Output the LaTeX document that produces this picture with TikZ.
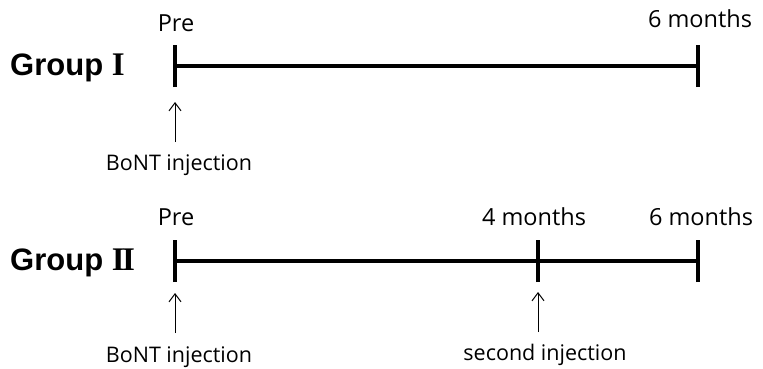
\documentclass[tikz,border=0pt]{standalone}
\usepackage{fontspec}
\setmainfont{Open Sans}
\newfontfamily\grpfont{Liberation Sans}
\newfontfamily\romfont{Liberation Serif}
\usetikzlibrary{arrows.meta}
\begin{document}
\begin{tikzpicture}[x=1pt,y=-1pt,
  axis/.style={line width=3.8pt},
  tick/.style={line width=4.2pt},
  ptr/.style={line width=1pt,-{Straight Barb[length=8pt,width=12pt,line width=1pt]}},
  toplbl/.style={inner sep=0pt,anchor=base,font=\fontsize{23.5}{26}\selectfont},
  botlbl/.style={inner sep=0pt,anchor=base,font=\fontsize{21.5}{24}\selectfont},
  rom/.style={},
  grp/.style={inner sep=0pt,anchor=base west,font=\fontsize{31}{34}\selectfont\grpfont\bfseries}]
\useasboundingbox (0,0) rectangle (763,369);
% Group I
\node[grp] (g1) at (10,76) {Group {\fontsize{33}{34}\selectfont\romfont\bfseries I}};
\coordinate (s1) at (175,66);
\coordinate (e1) at (698,66);
\draw[axis] (s1) -- (e1);
\draw[tick] ([yshift=-21pt]s1) -- ([yshift=21pt]s1);
\draw[tick] ([yshift=-21pt]e1) -- ([yshift=21pt]e1);
\node[toplbl] (pre1) at (176,32) {Pre};
\node[toplbl] (m61) at (700,28) {6 months};
\coordinate (a1b) at (175,142);
\coordinate (a1t) at (175,102);
\draw[ptr] (a1b) -- (a1t);
\node[botlbl] (inj1) at (179,170) {BoNT injection};
% Group II
\node[grp] (g2) at (10,270) {Group {\fontsize{33}{34}\selectfont\romfont\bfseries I\kern-2.5pt I}};
\coordinate (s2) at (175,261);
\coordinate (m2) at (538,261);
\coordinate (e2) at (698,261);
\draw[axis] (s2) -- (e2);
\draw[tick] ([yshift=-21pt]s2) -- ([yshift=21pt]s2);
\draw[tick] ([yshift=-21pt]m2) -- ([yshift=21pt]m2);
\draw[tick] ([yshift=-21pt]e2) -- ([yshift=21pt]e2);
\node[toplbl] (pre2) at (176,225) {Pre};
\node[toplbl] (m42) at (534,225) {4 months};
\node[toplbl] (m62) at (701,225) {6 months};
\coordinate (a2b) at (175,333);
\coordinate (a2t) at (175,293);
\draw[ptr] (a2b) -- (a2t);
\coordinate (a3b) at (538,332);
\coordinate (a3t) at (538,292);
\draw[ptr] (a3b) -- (a3t);
\node[botlbl] (inj2) at (179,362) {BoNT injection};
\node[botlbl] (inj3) at (545,360) {second injection};
\end{tikzpicture}
\end{document}
